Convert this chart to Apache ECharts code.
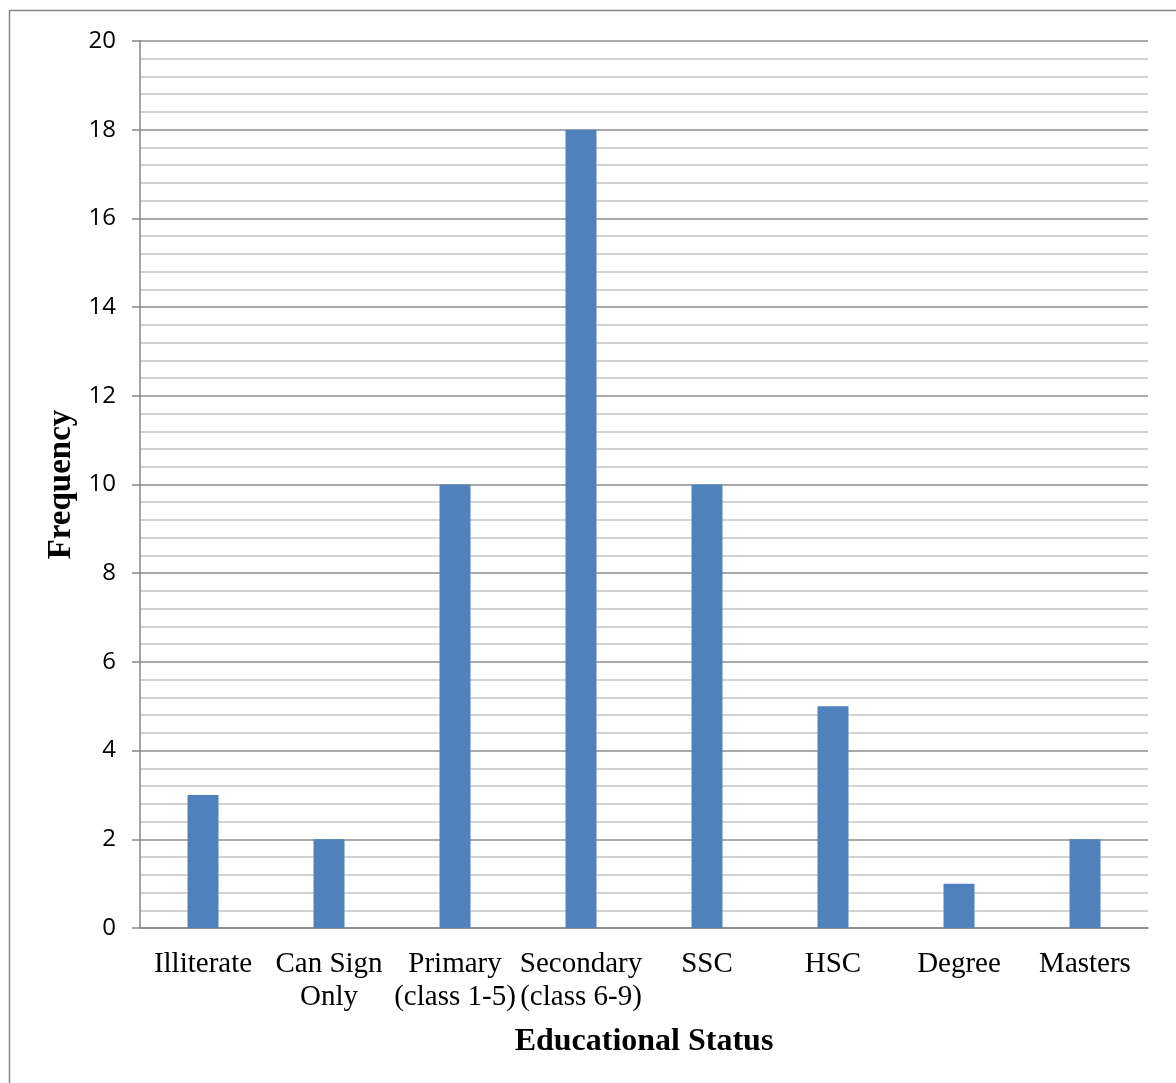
<!DOCTYPE html>
<html>
<head>
<meta charset="utf-8">
<script src="https://cdn.jsdelivr.net/npm/echarts@6/dist/echarts.min.js"></script>
<style>
  html, body { margin: 0; padding: 0; background: #fff; }
  #chart { width: 1176px; height: 1083px; }
</style>
</head>
<body>
<div id="chart"></div>
<script>
const categories = ['Illiterate', 'Can Sign\nOnly', 'Primary\n(class 1-5)', 'Secondary\n(class 6-9)', 'SSC', 'HSC', 'Degree', 'Masters'];
const frequency = [3, 2, 10, 18, 10, 5, 1, 2];
const yMin = 0, yMax = 20, yStep = 2;

const chart = echarts.init(document.getElementById('chart'));
chart.setOption({
  animation: false,
  backgroundColor: '#ffffff',
  graphic: [{
    type: 'rect',
    shape: { x: 9.5, y: 10.5, width: 1200, height: 1100 },
    style: { fill: 'none', stroke: '#868686', lineWidth: 1.5 },
    silent: true
  }],
  grid: { left: 140, right: 28, top: 41, bottom: 155 },
  xAxis: {
    type: 'category',
    data: categories,
    name: 'Educational Status',
    nameLocation: 'middle',
    nameGap: 98,
    nameTextStyle: { fontFamily: 'Liberation Serif', fontWeight: 'bold', fontSize: 32, color: '#000' },
    axisLine: { lineStyle: { color: '#868686', width: 1.5 } },
    axisTick: { show: false },
    axisLabel: {
      interval: 0,
      fontFamily: 'Liberation Serif',
      fontSize: 29,
      color: '#000',
      lineHeight: 33,
      margin: 20
    }
  },
  yAxis: {
    type: 'value',
    min: yMin,
    max: yMax,
    interval: yStep,
    name: 'Frequency',
    nameLocation: 'middle',
    nameGap: 61,
    nameRotate: 90,
    nameTextStyle: { fontFamily: 'Liberation Serif', fontWeight: 'bold', fontSize: 33, color: '#000' },
    axisLine: { show: true, lineStyle: { color: '#868686', width: 1.5 } },
    axisTick: { show: true, inside: false, length: 8, lineStyle: { color: '#868686', width: 1.5 } },
    axisLabel: { fontFamily: 'Open Sans', fontSize: 24, color: '#000', margin: 24 },
    splitLine: { show: true, lineStyle: { color: '#8c8c8c', width: 1.5 } },
    minorTick: { show: false, splitNumber: 5 },
    minorSplitLine: { show: true, lineStyle: { color: '#c4c4c4', width: 1.5 } }
  },
  series: [{
    type: 'bar',
    data: frequency,
    barWidth: 31,
    itemStyle: { color: '#4f81bd' }
  }]
});
</script>
</body>
</html>
